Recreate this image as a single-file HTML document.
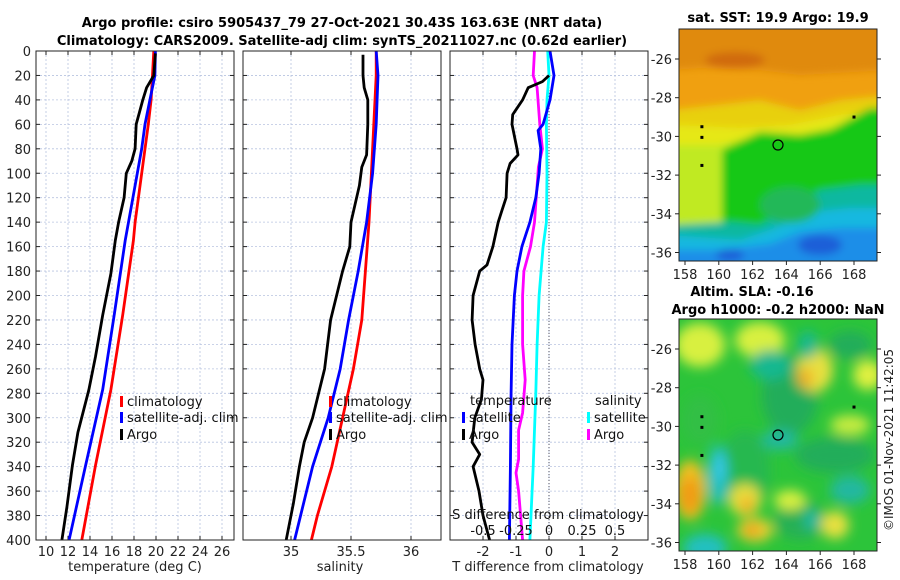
<!DOCTYPE html>
<html><head><meta charset="utf-8"><style>
html,body{margin:0;padding:0;background:#fff;width:900px;height:580px;overflow:hidden;}
svg{display:block;font-family:"DejaVu Sans","Liberation Sans",sans-serif;}
</style></head><body>
<svg id="fig" width="900" height="580" viewBox="0 0 900 580">
<defs>
<filter id="bl" x="-50%" y="-50%" width="200%" height="200%"><feGaussianBlur stdDeviation="6"/></filter>
<filter id="bl2" x="-50%" y="-50%" width="200%" height="200%"><feGaussianBlur stdDeviation="4"/></filter>
<clipPath id="cm1"><rect x="679" y="29" width="198" height="232"/></clipPath>
<clipPath id="cm2"><rect x="679" y="319" width="198" height="232"/></clipPath>
</defs>
<text x="342" y="27" text-anchor="middle" font-size="13" font-weight="bold">Argo profile: csiro 5905437_79 27-Oct-2021 30.43S 163.63E (NRT data)</text>
<text x="342" y="45" text-anchor="middle" font-size="13" font-weight="bold">Climatology: CARS2009. Satellite-adj clim: synTS_20211027.nc (0.62d earlier)</text>

<!-- top map -->
<text x="778" y="22" text-anchor="middle" font-size="13" font-weight="bold">sat. SST: 19.9 Argo: 19.9</text>
<g clip-path="url(#cm1)">
<rect x="679" y="29" width="198" height="232" fill="#f0a010"/>
<g filter="url(#bl2)">
<path d="M670 20 L890 20 L890 70 L800 75 L760 70 L700 68 L670 70Z" fill="#e08a10"/>
<ellipse cx="735" cy="60" rx="30" ry="8" fill="#d06a10"/>
<path d="M670 110 L760 100 L800 110 L840 100 L890 95 L890 150 L670 150Z" fill="#e8d010"/>
<path d="M670 125 L740 128 L790 125 L840 115 L890 110 L890 160 L670 160Z" fill="#e6e818"/>
<path d="M670 145 L720 145 L760 135 L800 135 L840 125 L890 110 L890 270 L670 270Z" fill="#c0ea20"/>
<path d="M722 150 L760 132 L800 135 L830 130 L870 108 L890 108 L890 270 L722 270Z" fill="#14c814"/>
<path d="M670 225 L730 222 L760 225 L790 205 L820 190 L860 185 L890 185 L890 270 L670 270Z" fill="#10b8a0"/>
<path d="M670 235 L740 240 L775 228 L810 212 L850 208 L890 208 L890 270 L670 270Z" fill="#14b8e0"/>
<path d="M670 250 L720 250 L770 244 L800 232 L840 228 L890 228 L890 270 L670 270Z" fill="#1e8ee8"/>
<ellipse cx="820" cy="245" rx="22" ry="10" fill="#1a5fd8"/>
<ellipse cx="730" cy="255" rx="14" ry="6" fill="#1a5fd8"/>
<ellipse cx="790" cy="205" rx="30" ry="18" fill="#20b858"/>
</g>
</g>
<rect x="679" y="29" width="198" height="232" fill="none" stroke="#222" stroke-width="1"/>
<circle cx="778" cy="145" r="5" fill="none" stroke="#000" stroke-width="1.2"/>

<!-- bottom map -->
<text x="752" y="296" text-anchor="middle" font-size="13" font-weight="bold">Altim. SLA: -0.16</text>
<text x="778" y="314" text-anchor="middle" font-size="13" font-weight="bold">Argo h1000: -0.2 h2000: NaN</text>
<g clip-path="url(#cm2)">
<rect x="679" y="319" width="198" height="232" fill="#2cc43a"/>
<g filter="url(#bl)">
<ellipse cx="790" cy="395" rx="28" ry="40" fill="#22ad5a"/>
<ellipse cx="850" cy="345" rx="22" ry="14" fill="#22ad5a"/>
<ellipse cx="835" cy="455" rx="40" ry="18" fill="#22ad5a"/>
<ellipse cx="745" cy="470" rx="25" ry="40" fill="#28b850"/>
<ellipse cx="700" cy="420" rx="18" ry="25" fill="#30bf45"/>
<ellipse cx="800" cy="520" rx="25" ry="20" fill="#25b055"/>
<ellipse cx="700" cy="345" rx="25" ry="22" fill="#d8f040"/>
<ellipse cx="760" cy="340" rx="25" ry="18" fill="#d8f040"/>
<ellipse cx="815" cy="370" rx="18" ry="22" fill="#e8e040"/>
<ellipse cx="805" cy="378" rx="8" ry="10" fill="#f0b020"/>
<ellipse cx="868" cy="375" rx="15" ry="15" fill="#e0f040"/>
<ellipse cx="850" cy="425" rx="20" ry="10" fill="#c8ec40"/>
<ellipse cx="690" cy="490" rx="16" ry="30" fill="#f0c020"/>
<ellipse cx="690" cy="495" rx="10" ry="18" fill="#f09a18"/>
<ellipse cx="745" cy="500" rx="16" ry="16" fill="#e8e040"/>
<ellipse cx="747" cy="505" rx="7" ry="9" fill="#f0b020"/>
<ellipse cx="755" cy="530" rx="18" ry="12" fill="#e8d030"/>
<ellipse cx="752" cy="530" rx="8" ry="6" fill="#f09a18"/>
<ellipse cx="790" cy="500" rx="16" ry="10" fill="#d8f040"/>
<ellipse cx="835" cy="525" rx="14" ry="14" fill="#e8e040"/>
<ellipse cx="770" cy="365" rx="20" ry="15" fill="#18b890"/>
<ellipse cx="808" cy="345" rx="10" ry="14" fill="#18b890"/>
<ellipse cx="718" cy="475" rx="10" ry="30" fill="#20c0c0"/>
<ellipse cx="719" cy="468" rx="6" ry="14" fill="#38c8e8"/>
<ellipse cx="705" cy="548" rx="22" ry="14" fill="#20c0c0"/>
<ellipse cx="780" cy="440" rx="18" ry="10" fill="#20b8a0"/>
<ellipse cx="850" cy="490" rx="20" ry="14" fill="#20b8a0"/>
<ellipse cx="812" cy="520" rx="8" ry="10" fill="#20b8a0"/>
</g>
</g>
<rect x="679" y="319" width="198" height="232" fill="none" stroke="#222" stroke-width="1"/>
<circle cx="778" cy="435" r="5" fill="none" stroke="#000" stroke-width="1.2"/>
<text transform="translate(893,440) rotate(-90)" text-anchor="middle" font-size="12" fill="#222">©IMOS 01-Nov-2021 11:42:05</text>

<g id="plots"></g>
</svg>
<script>
// ---- data ----
const depthTicks=[0,20,40,60,80,100,120,140,160,180,200,220,240,260,280,300,320,340,360,380,400];
const tTicks=[10,12,14,16,18,20,22,24,26];
const sTicks=[35,35.5,36];
const dTicks=[-2,-1,0,1,2];
const dsTickLabels=["-0.5","-0.25","0","0.25","0.5"];
const dsTickVals=[-0.5,-0.25,0,0.25,0.5];
// temperature panel
const tClimDepth=[0,40,60,100,140,155,216,277,339,400];
const tClimVal=[19.8,19.55,19.3,18.7,18.1,17.95,16.97,15.9,14.5,13.25];
const tSatDepth=[0,20,40,60,80,100,120,140,155,216,277,339,400];
const tSatVal=[19.95,19.9,19.45,19.0,18.7,18.3,17.9,17.5,17.2,16.2,15.15,13.6,12.1];
const tArgoDepth=[2,20,30,40,50,60,80,90,100,120,140,155,182,216,250,277,312,339,373,400];
const tArgoVal=[19.95,19.8,19.15,18.8,18.5,18.2,18.1,17.8,17.3,17.1,16.6,16.3,15.9,15.15,14.5,13.9,12.9,12.4,11.9,11.45];
// salinity panel
const sClimDepth=[0,20,60,100,140,180,220,260,300,340,380,400];
const sClimVal=[35.71,35.71,35.69,35.67,35.65,35.62,35.59,35.52,35.43,35.34,35.22,35.17];
const sSatDepth=[0,20,60,100,140,180,220,260,300,340,380,400];
const sSatVal=[35.71,35.725,35.71,35.68,35.63,35.56,35.48,35.41,35.31,35.18,35.08,35.03];
const sArgoDepth=[3,20,30,40,60,85,95,110,140,160,180,220,260,300,320,340,370,400];
const sArgoVal=[35.6,35.6,35.61,35.64,35.64,35.63,35.59,35.57,35.5,35.49,35.43,35.33,35.28,35.18,35.11,35.07,35.02,34.96];
// difference panel
const dTSatDepth=[0,20,40,60,65,80,100,120,140,160,180,200,240,280,340,400];
const dTSatVal=[0.03,0.15,0.03,-0.18,-0.33,-0.25,-0.3,-0.4,-0.58,-0.82,-0.97,-1.05,-1.12,-1.15,-1.17,-1.2];
const dTArgoDepth=[20,25,30,40,48,52,60,80,85,92,100,120,130,140,160,175,180,200,220,240,260,269,285,300,320,330,340,360,380,400];
const dTArgoVal=[0.0,-0.2,-0.63,-0.8,-1.0,-1.1,-1.12,-0.97,-0.94,-1.18,-1.27,-1.3,-1.42,-1.54,-1.7,-1.88,-2.1,-2.3,-2.33,-2.24,-2.1,-2.0,-2.05,-2.25,-2.33,-2.1,-2.3,-2.12,-2.0,-1.8];
const dSSatDepth=[0,20,40,60,100,140,160,200,240,280,340,400];
const dSSatVal=[-0.01,0,-0.015,-0.02,-0.015,-0.02,-0.045,-0.075,-0.09,-0.1,-0.12,-0.145];
const dSArgoDepth=[0,20,30,60,80,95,110,140,160,180,200,240,269,296,310,334,345,360,400];
const dSArgoVal=[-0.11,-0.12,-0.09,-0.07,-0.05,-0.08,-0.09,-0.11,-0.14,-0.19,-0.2,-0.2,-0.18,-0.2,-0.23,-0.23,-0.25,-0.23,-0.2];
// maps
const lonTicks=[158,160,162,164,166,168];
const latTicks=[-26,-28,-30,-32,-34,-36];
const floatLon=[159,159,159,168];
const floatLat=[-29.5,-30.05,-31.5,-29.0];

// ---- helpers ----
const NS="http://www.w3.org/2000/svg";
const plots=document.getElementById('plots');
function mk(tag,attrs,parent,txt){const e=document.createElementNS(NS,tag);for(const k in attrs)e.setAttribute(k,attrs[k]);if(txt!==undefined)e.textContent=txt;(parent||plots).appendChild(e);return e;}
const Y0=51,Y1=540;
const yD=d=>Y0+d*(Y1-Y0)/400;
const xT=v=>46+(v-10)*11;
const xS=v=>291+(v-35)*120;
const xDT=v=>549+v*33;
const xDS=v=>549+v*132;
const panels=[{x0:36,x1:234,name:'temperature'},{x0:243,x1:441,name:'salinity'},{x0:450,x1:648,name:'difference'}];

function line(xs,ds,xf,color,name){
  const pts=ds.map((d,i)=>xf(xs[i]).toFixed(1)+','+yD(d).toFixed(1)).join(' ');
  const p=mk('polyline',{points:pts,fill:'none',stroke:color,'stroke-width':2.8,'stroke-linejoin':'round'});
  
  
}
function vgrid(x){const g=mk('line',{x1:x,x2:x,y1:Y0,y2:Y1,stroke:'#b8c4e0','stroke-width':0.8,'stroke-dasharray':'2,2'});}

panels.forEach((p,pi)=>{
  depthTicks.forEach(d=>{
    const g=mk('line',{x1:p.x0,x2:p.x1,y1:yD(d),y2:yD(d),stroke:'#b8c4e0','stroke-width':0.8,'stroke-dasharray':'2,2'});
    
    
    mk('line',{x1:p.x0,x2:p.x0+4,y1:yD(d),y2:yD(d),stroke:'#222'});
    mk('line',{x1:p.x1-4,x2:p.x1,y1:yD(d),y2:yD(d),stroke:'#222'});
    if(pi===0){const t=mk('text',{x:31,y:yD(d)+5,'text-anchor':'end','font-size':13,fill:'#222'},plots,d);}
  });
});
function xticks(arr,f){arr.forEach(v=>{vgrid(f(v));mk('line',{x1:f(v),x2:f(v),y1:Y1,y2:Y1-4,stroke:'#222'});mk('line',{x1:f(v),x2:f(v),y1:Y0,y2:Y0+4,stroke:'#222'});const t=mk('text',{x:f(v),y:556,'text-anchor':'middle','font-size':13,fill:'#222'},plots,v);});}
xticks(tTicks,xT);xticks(sTicks,xS);xticks(dTicks,xDT);
mk('line',{x1:xDT(0),x2:xDT(0),y1:Y0,y2:Y1,stroke:'#556','stroke-width':1,'stroke-dasharray':'1,2'});

// series
line(tClimVal,tClimDepth,xT,'#ff0000','temp-climatology-line');
line(tSatVal,tSatDepth,xT,'#0000ff','temp-satellite-line');
line(tArgoVal,tArgoDepth,xT,'#000000','temp-argo-line');
line(sClimVal,sClimDepth,xS,'#ff0000','sal-climatology-line');
line(sSatVal,sSatDepth,xS,'#0000ff','sal-satellite-line');
line(sArgoVal,sArgoDepth,xS,'#000000','sal-argo-line');
line(dSSatVal,dSSatDepth,xDS,'#00ffff','dsal-satellite-line');
line(dSArgoVal,dSArgoDepth,xDS,'#ff00ff','dsal-argo-line');
line(dTArgoVal,dTArgoDepth,xDT,'#000000','dtemp-argo-line');
line(dTSatVal,dTSatDepth,xDT,'#0000ff','dtemp-satellite-line');

panels.forEach(p=>{const r=mk('rect',{x:p.x0,y:Y0,width:p.x1-p.x0,height:Y1-Y0,fill:'none',stroke:'#222','stroke-width':1});});

function leg(x,y,color,label,name){
  mk('rect',{x:x,y:y-10,width:3,height:11,fill:color});
  const t=mk('text',{x:x+7,y:y,'font-size':13,fill:'#111'},plots,label);
  
  
}
leg(120,406,'#ff0000','climatology','legend-climatology');
leg(120,422,'#0000ff','satellite-adj. clim','legend-satellite');
leg(120,439,'#000000','Argo','legend-argo');
leg(329,406,'#ff0000','climatology','legend-climatology-2');
leg(329,422,'#0000ff','satellite-adj. clim','legend-satellite-2');
leg(329,439,'#000000','Argo','legend-argo-2');
mk('text',{x:470,y:405,'font-size':13,fill:'#111'},plots,'temperature');
leg(462,422,'#0000ff','satellite','legend-dtemp-satellite');
leg(462,439,'#000000','Argo','legend-dtemp-argo');
mk('text',{x:595,y:405,'font-size':13,fill:'#111'},plots,'salinity');
leg(587,422,'#00ffff','satellite','legend-dsal-satellite');
leg(587,439,'#ff00ff','Argo','legend-dsal-argo');
const sdt=mk('text',{x:548,y:519,'text-anchor':'middle','font-size':13,fill:'#111'},plots,'S difference from climatology');


dsTickVals.forEach((v,i)=>{const t=mk('text',{x:xDS(v),y:535,'text-anchor':'middle','font-size':13,fill:'#111'},plots,dsTickLabels[i]);});

[[135,'temperature (deg C)','x-axis-title-temperature'],[340,'salinity','x-axis-title-salinity'],[548,'T difference from climatology','x-axis-title-difference']].forEach(a=>{
  const t=mk('text',{x:a[0],y:571,'text-anchor':'middle','font-size':13,fill:'#222'},plots,a[1]);
  
  
});

function mapTicks(y1,latY0){
  const xL=lon=>685+(lon-158)*16.9;
  const yL=lat=>latY0+(-26-lat)*19.35;
  lonTicks.forEach(l=>{
    mk('line',{x1:xL(l),x2:xL(l),y1:y1,y2:y1+4,stroke:'#222'});
    const t=mk('text',{x:xL(l),y:y1+18,'text-anchor':'middle','font-size':13,fill:'#222'},plots,l);
    
    
  });
  latTicks.forEach(l=>{
    mk('line',{x1:675,x2:679,y1:yL(l),y2:yL(l),stroke:'#222'});
    mk('line',{x1:877,x2:881,y1:yL(l),y2:yL(l),stroke:'#222'});
    const t=mk('text',{x:672,y:yL(l)+5,'text-anchor':'end','font-size':13,fill:'#222'},plots,l);
    
    
  });
  floatLon.forEach((lo,i)=>{
    const r=mk('rect',{x:xL(lo)-1.5,y:yL(floatLat[i])-1.5,width:3,height:3,fill:'#000'});
    
    
  });
}
mapTicks(261,59);
mapTicks(551,349);
</script>
</body></html>
